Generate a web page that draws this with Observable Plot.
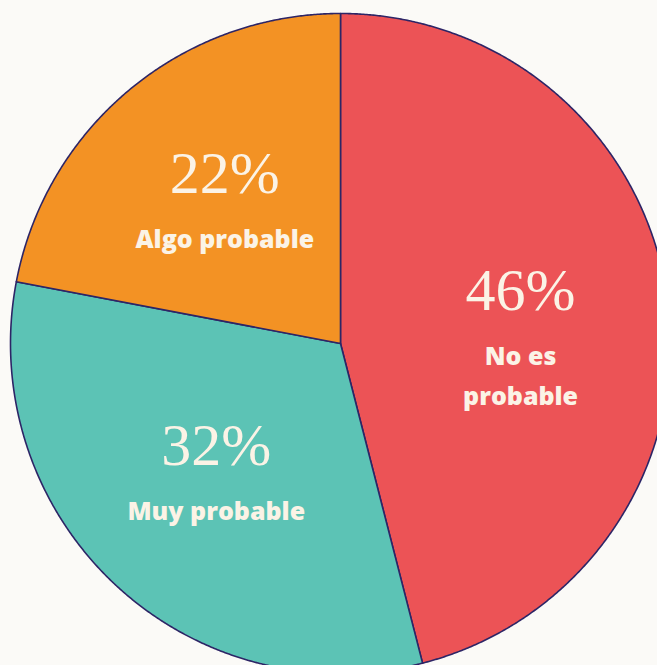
<!DOCTYPE html>
<html>
<head>
<meta charset="utf-8">
<script src="https://cdn.jsdelivr.net/npm/d3@7"></script>
<script src="https://cdn.jsdelivr.net/npm/@observablehq/plot@0.6"></script>
<style>
  html, body { margin: 0; padding: 0; background: #fbfaf7; }
  #chart { width: 657px; height: 665px; overflow: hidden; }
</style>
</head>
<body>
<div id="chart"></div>
<script>
const categories = ["No es probable", "Muy probable", "Algo probable"];
const labelText = ["No es\nprobable", "Muy probable", "Algo probable"];
const values = [46, 32, 22];
const colors = ["#ec5356", "#5cc3b5", "#f39224"];

const pie = d3.pie().sort(null).value(d => d.value)(
  categories.map((c, i) => ({category: c, value: values[i], label: labelText[i]}))
);

// polygon points for each slice (unit circle, angle clockwise from top)
const pts = [];
pie.forEach(s => {
  const n = Math.max(2, Math.ceil((s.endAngle - s.startAngle) / 0.005));
  pts.push({category: s.data.category, x: 0, y: 0});
  for (let k = 0; k <= n; k++) {
    const a = s.startAngle + (s.endAngle - s.startAngle) * k / n;
    pts.push({category: s.data.category, x: Math.sin(a), y: Math.cos(a)});
  }
  pts.push({category: s.data.category, x: 0, y: 0});
});

const labelR = 0.55;
const labels = pie.map(s => {
  const a = (s.startAngle + s.endAngle) / 2;
  return {x: labelR * Math.sin(a), y: labelR * Math.cos(a), pct: s.data.value + "%", label: s.data.label};
});

const plot = Plot.plot({
  width: 657,
  height: 665,
  margin: 0,
  style: {background: "#fbfaf7"},
  x: {domain: [-1, 1], range: [10, 670], axis: null},
  y: {domain: [-1, 1], range: [673, 13], axis: null},
  color: {domain: categories, range: colors},
  marks: [
    Plot.line(pts, {x: "x", y: "y", z: "category", fill: "category", stroke: "#2d2566", strokeWidth: 1.6, strokeLinejoin: "round", curve: "linear"}),
    Plot.text(labels, {x: "x", y: "y", text: "pct", dy: -30, fill: "#fbf3e6", fontSize: 60, fontFamily: "Liberation Serif", fontWeight: 300}),
    Plot.text(labels, {x: "x", y: "y", text: "label", dy: 16, lineAnchor: "top", lineHeight: 1.6, fill: "#fbf3e6", fontSize: 25, fontFamily: "Open Sans", fontWeight: 800, letterSpacing: "1px"})
  ]
});
document.getElementById("chart").appendChild(plot);
</script>
</body>
</html>
